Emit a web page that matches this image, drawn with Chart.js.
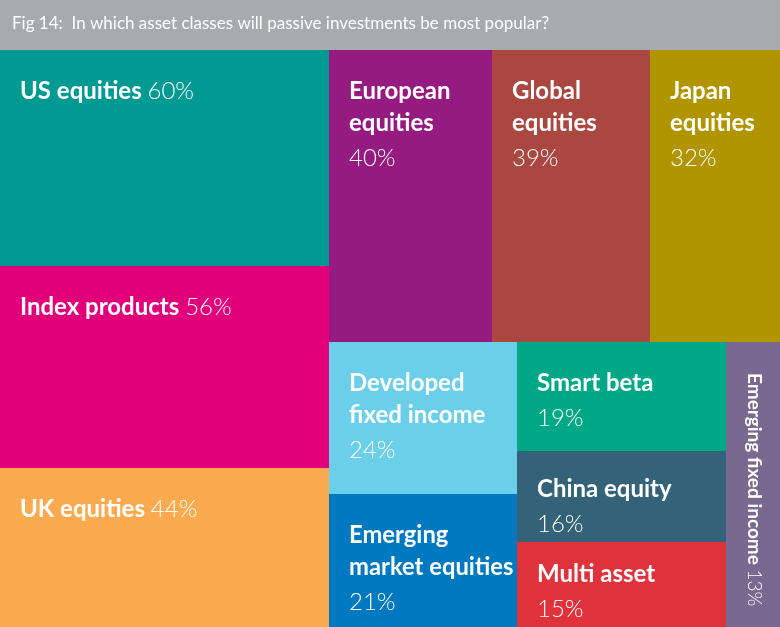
<!DOCTYPE html>
<html>
<head>
<meta charset="utf-8">
<script src="https://cdn.jsdelivr.net/npm/chart.js@4/dist/chart.umd.min.js"></script>
<style>
  body { margin: 0; background: #fff; }
  canvas { display: block; }
</style>
</head>
<body>
<canvas id="chart" width="780" height="627"></canvas>
<script>
const title = 'Fig 14:  In which asset classes will passive investments be most popular?';
const categories = ['US equities', 'Index products', 'UK equities', 'European equities', 'Global equities',
  'Japan equities', 'Developed fixed income', 'Emerging market equities', 'Smart beta', 'China equity',
  'Multi asset', 'Emerging fixed income'];
const shares = [60, 56, 44, 40, 39, 32, 24, 21, 19, 16, 15, 13];
const shareLabels = shares.map(v => v + '%');
const colours = ['#009a93', '#e2007a', '#fbaa4f', '#951b81', '#a94740', '#b09400',
  '#6ccfe9', '#0079c1', '#00a887', '#336279', '#e0323a', '#79688f'];

// how the cells are grouped (indexes into categories); sizes come from shares
const groups = { dir: 'x', parts: [
  { dir: 'y', parts: [0, 1, 2] },
  { dir: 'y', parts: [
    { dir: 'x', parts: [3, 4, 5] },
    { dir: 'x', parts: [{ dir: 'y', parts: [6, 7] }, { dir: 'y', parts: [8, 9, 10] }, 11] }
  ] }
] };

const bold = size => `bold ${size}px Lato`;
const light = size => `300 ${size}px Lato`;

function total(n) {
  return typeof n === 'number' ? shares[n] : n.parts.reduce((s, p) => s + total(p), 0);
}

function layout(n, x0, y0, x1, y1, out) {
  if (typeof n === 'number') { out[n] = { x0, y0, x1, y1 }; return out; }
  const t = total(n);
  let acc = 0;
  n.parts.forEach(p => {
    const a = acc / t;
    acc += total(p);
    const b = acc / t;
    if (n.dir === 'x') layout(p, x0 + (x1 - x0) * a, y0, x0 + (x1 - x0) * b, y1, out);
    else layout(p, x0, y0 + (y1 - y0) * a, x1, y0 + (y1 - y0) * b, out);
  });
  return out;
}

// one line if it fits, else the most even split into two lines
function split(ctx, text, maxW) {
  if (ctx.measureText(text).width <= maxW) return [text];
  const words = text.split(' ');
  let best = null, bestW = Infinity;
  for (let k = 1; k < words.length; k++) {
    const a = words.slice(0, k).join(' '), b = words.slice(k).join(' ');
    const m = Math.max(ctx.measureText(a).width, ctx.measureText(b).width);
    if (m < bestW) { bestW = m; best = [a, b]; }
  }
  return best || [text];
}

function drawLabel(ctx, i, l, t, r, b) {
  const w = r - l, h = b - t, pad = 20;
  const name = categories[i], pct = shareLabels[i];
  ctx.fillStyle = '#fff';
  ctx.textAlign = 'left';

  if (h > 2.5 * w) {
    // narrow tall cell: text runs downwards
    ctx.save();
    ctx.translate(l + w / 2 + 1, t + 31);
    ctx.rotate(Math.PI / 2);
    ctx.textBaseline = 'middle';
    ctx.font = bold(19);
    ctx.fillText(name, 0, 0);
    const nw = ctx.measureText(name + ' ').width;
    ctx.font = light(19);
    ctx.fillText(pct, nw, 0);
    ctx.restore();
    return;
  }

  ctx.textBaseline = 'alphabetic';
  ctx.font = bold(24);
  const nameW = ctx.measureText(name + ' ').width;
  ctx.font = light(24);
  const pctW = ctx.measureText(pct).width;

  if (nameW + pctW < w * 0.75) {
    const y = t + 49;
    ctx.font = bold(24);
    ctx.fillText(name, l + pad, y);
    ctx.font = light(24);
    ctx.fillText(pct, l + pad + nameW, y);
    return;
  }

  const maxW = w - pad - 3;
  ctx.font = bold(24);
  const lines = split(ctx, name, maxW);
  const widest = Math.max(...lines.map(s => ctx.measureText(s).width));
  const size = widest > maxW ? Math.floor(24 * maxW / widest * 10) / 10 : 24;
  ctx.font = bold(size);
  let y = t + Math.min(49, h - 32 * (lines.length - 1) - 35 - 10);
  lines.forEach((s, k) => { ctx.fillText(s, l + pad, y); y += k < lines.length - 1 ? 32 : 35; });
  ctx.font = light(24);
  ctx.fillText(pct, l + pad, y);
}

const treemapCells = {
  id: 'treemapCells',
  beforeDraw(chart) {
    const ctx = chart.ctx;
    ctx.save();
    ctx.fillStyle = '#a8abae';
    ctx.fillRect(0, 0, chart.width, chart.chartArea.top);
    ctx.fillStyle = '#fff';
    ctx.font = '17px Lato';
    ctx.textBaseline = 'alphabetic';
    ctx.fillText(title, 12, 29);
    ctx.restore();
  },
  afterDatasetsDraw(chart) {
    const { ctx, scales: { x, y } } = chart;
    const cells = layout(groups, 0, 0, 1, 1, []);
    ctx.save();
    cells.forEach((c, i) => {
      const l = Math.round(x.getPixelForValue(c.x0));
      const r = Math.round(x.getPixelForValue(c.x1));
      const t = Math.round(y.getPixelForValue(c.y0));
      const b = Math.round(y.getPixelForValue(c.y1));
      ctx.fillStyle = colours[i];
      ctx.fillRect(l, t, r - l, b - t);
      drawLabel(ctx, i, l, t, r, b);
    });
    ctx.restore();
  }
};

new Chart(document.getElementById('chart'), {
  type: 'scatter',
  data: { datasets: [{ data: [] }] },
  options: {
    responsive: false,
    animation: false,
    layout: { padding: { top: 50 } },
    scales: {
      x: { type: 'linear', min: 0, max: 1, display: false },
      y: { type: 'linear', min: 0, max: 1, reverse: true, display: false }
    },
    plugins: { legend: { display: false }, tooltip: { enabled: false }, title: { display: false } }
  },
  plugins: [treemapCells]
});
</script>
</body>
</html>
